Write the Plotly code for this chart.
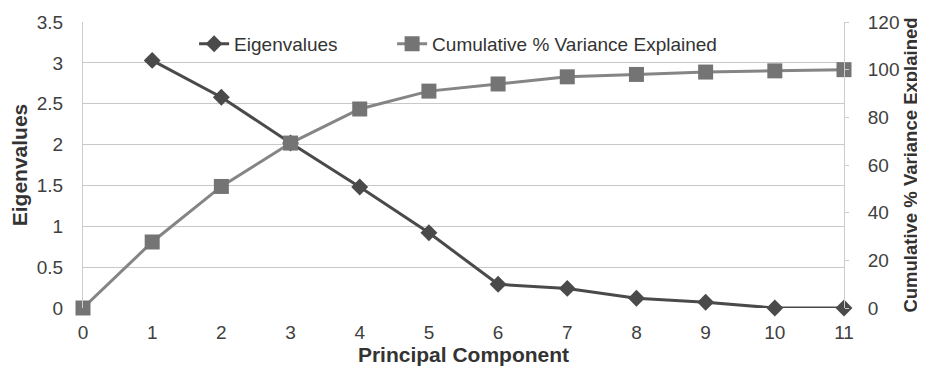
import plotly.graph_objects as go

components = [0, 1, 2, 3, 4, 5, 6, 7, 8, 9, 10, 11]
eig_x = [1, 2, 3, 4, 5, 6, 7, 8, 9, 10, 11]
eigenvalues = [3.03, 2.58, 2.02, 1.48, 0.92, 0.29, 0.24, 0.12, 0.07, 0.0, 0.0]
cumulative = [0, 27.7, 51.0, 69.2, 83.5, 91.0, 94.0, 97.0, 98.0, 99.0, 99.5, 100.0]

font = "Liberation Sans, Arial, sans-serif"

fig = go.Figure()
fig.add_trace(go.Scatter(
    x=eig_x, y=eigenvalues, name="Eigenvalues", mode="lines+markers",
    line=dict(color="#4a4a4a", width=3),
    marker=dict(symbol="diamond", size=13, color="#4a4a4a"),
    legendwidth=153,
    cliponaxis=False, yaxis="y"))
fig.add_trace(go.Scatter(
    x=components, y=cumulative, name="Cumulative % Variance Explained", mode="lines+markers",
    line=dict(color="#858585", width=3),
    marker=dict(symbol="square", size=15, color="#747474"),
    cliponaxis=False, yaxis="y2"))

fig.update_layout(
    width=917, height=365,
    margin=dict(l=75, r=81, t=14, b=65),
    paper_bgcolor="white", plot_bgcolor="white",
    font=dict(family=font, size=19, color="#404040"),
    showlegend=True,
    legend=dict(orientation="h", x=0.146, y=0.99, xanchor="left", yanchor="top",
                bgcolor="rgba(0,0,0,0)", font=dict(size=19, color="#333333")),
    xaxis=dict(range=[0, 11], dtick=1, tick0=0, showgrid=False, zeroline=False,
               showline=False, ticks="", ticklabelstandoff=11, automargin=False,
               title=dict(text="<b>Principal Component</b>", font=dict(size=21, color="#333333"), standoff=5)),
    yaxis=dict(range=[0, 3.5], dtick=0.5, showgrid=True, gridcolor="#c8c8c8", gridwidth=1,
               zeroline=False, showline=True, linecolor="#cccccc", linewidth=1,
               ticks="", ticklabelstandoff=15, automargin=False,
               title=dict(text="<b>Eigenvalues</b>", font=dict(size=21, color="#333333"), standoff=10)),
    yaxis2=dict(range=[0, 120], dtick=20, overlaying="y", side="right", showgrid=False,
                zeroline=False, showline=True, linecolor="#cccccc", linewidth=1,
                ticks="outside", ticklen=4, tickcolor="#cccccc", ticklabelstandoff=15, automargin=False,
                title=dict(text="<b>Cumulative % Variance Explained</b>", font=dict(size=18.5, color="#333333"), standoff=3)),
)

fig.write_html("out.html")
